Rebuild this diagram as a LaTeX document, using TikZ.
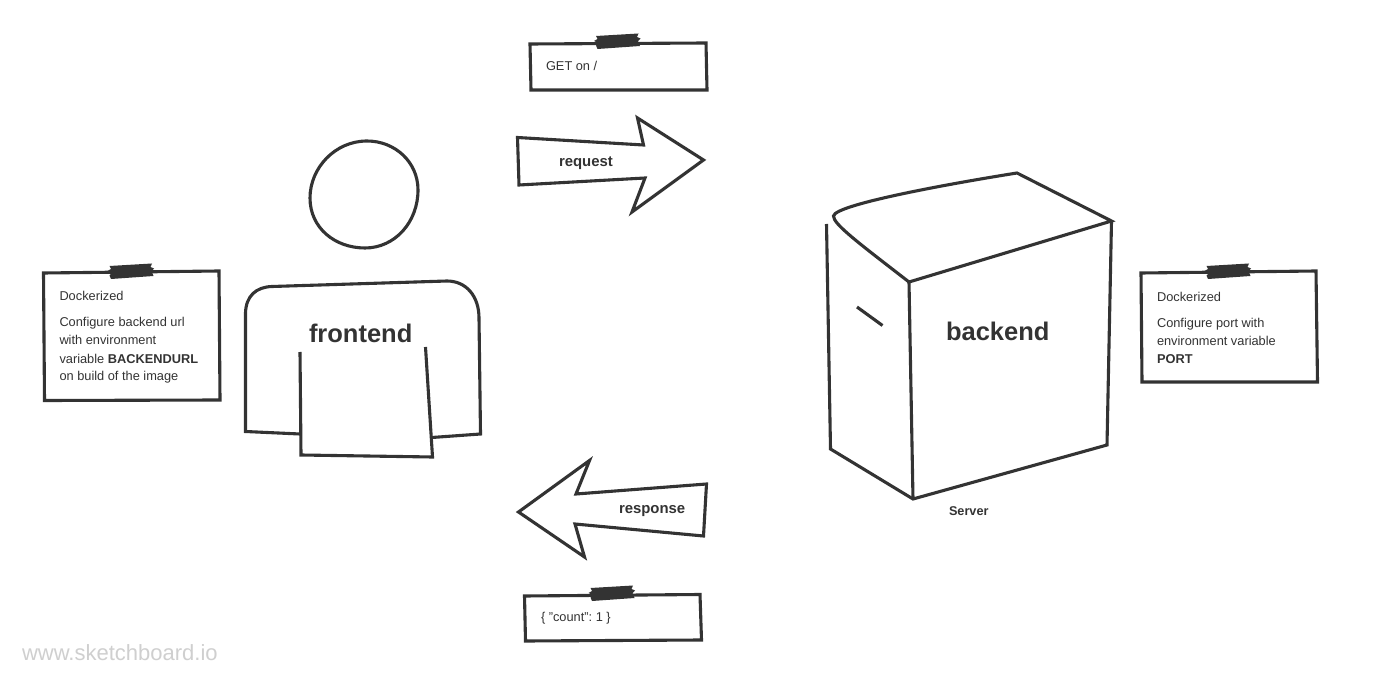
\documentclass[tikz,border=0pt]{standalone}
\usepackage{fontspec}
\setmainfont{Liberation Sans}
\definecolor{ink}{HTML}{333333}
\definecolor{mark}{HTML}{CFCFCF}
\newcommand{\fs}[1]{\fontsize{#1}{#1}\selectfont\frenchspacing}
\tikzset{
  sketch/.style={draw=ink,line width=3.1pt,line join=miter,fill=none},
  paper/.style={draw=ink,line width=3.1pt,fill=white,line join=miter},
  tape/.style={fill=ink,draw=none},
  txt/.style={anchor=base west,inner sep=0pt,outer sep=0pt,text=ink},
  small/.style={txt,font=\fs{12.8}},
  smallb/.style={txt,font=\fs{12.8}\bfseries},
  arrowlabel/.style={txt,font=\fs{14.9}\bfseries},
  bigb/.style={txt,font=\fs{25.5}\bfseries},
  water/.style={txt,text=mark,font=\fs{22}},
  pics/tapestrip/.style={code={
    \fill[tape] (-21.5,-6) -- (21,-8.5) -- (19.5,-5) -- (23,-3.5) -- (20.5,-1) -- (22.5,4)
      -- (-20,7) -- (-21.5,3.5) -- (-19,1) -- (-23.5,-1) -- (-20,-3) -- cycle;
  }}
}
\begin{document}
\begin{tikzpicture}[x=1pt,y=-1pt]
\useasboundingbox (0,0) rectangle (1384,684);
\fill[white] (0,0) rectangle (1384,684);

% notes
\draw[paper] (43.5,273) -- (219,271) -- (220,400) -- (44.5,400.5) -- cycle;
\pic at (131,272) {tapestrip};
\draw[paper] (1141,273) -- (1316,271) -- (1317.5,382) -- (1142,382) -- cycle;
\pic at (1228,272) {tapestrip};
\draw[paper] (530,44) -- (706,43) -- (707,90) -- (531,90) -- cycle;
\pic at (617.5,42) {tapestrip};
\draw[paper] (524.5,596) -- (700,594.5) -- (701.5,640) -- (525.5,641) -- cycle;
\pic at (612,594) {tapestrip};

\node[small] (n1a) at (59.5,301) {Dockerized};
\node[small] (n1b) at (59.5,327) {Configure backend url};
\node[small] (n1c) at (59.5,345) {with environment};
\node[small] (n1d) at (59.5,363) {variable \textbf{BACKENDURL}};
\node[small] (n1e) at (59.5,381) {on build of the image};
\node[small] (n2a) at (1157,302) {Dockerized};
\node[small] (n2b) at (1157,328) {Configure port with};
\node[small] (n2c) at (1157,346) {environment variable};
\node[smallb] (n2d) at (1157,363) {PORT};
\node[small] (n3) at (546,71) {GET on /};
\node[small] (n4) at (541,621) {\{ \symbol{34}count\symbol{34}: 1 \}};

% person
\draw[sketch] (367,141) .. controls (395,141) and (418,162) .. (418,190)
  .. controls (418,222) and (395,248) .. (365,248)
  .. controls (335,248) and (310,228) .. (310,198)
  .. controls (310,168) and (335,141) .. cycle;
\draw[sketch] (300,434) -- (245.5,431.5) -- (245.5,313) .. controls (246,296) and (256,287) .. (272,286.5)
  -- (447,281) .. controls (466,281) and (479,296) .. (479,318) -- (480.5,434) -- (432,437.5);
\draw[sketch] (300,352) -- (301,455) -- (432.5,457) -- (425.5,347);
\node[bigb] (fe) at (309,343) {frontend};

% arrows
\draw[sketch] (517.5,137.5) -- (643.5,145) -- (637.5,118) -- (703.5,160) -- (632,212) -- (645,178) -- (519,185) -- cycle;
\node[arrowlabel] (req) at (559,167) {request};
\draw[sketch] (518.5,512) -- (589.5,460.5) -- (576,494) -- (706.5,484) -- (703.5,536) -- (575,524) -- (584.5,557) -- cycle;
\node[arrowlabel] (resp) at (619,513) {response};

% server
\draw[sketch] (826.5,224) -- (830.5,449) -- (913,499) -- (1107,445) -- (1111.5,221);
\draw[sketch] (1111.5,221) -- (1017,173) .. controls (960,182) and (835,204) .. (833.5,216)
  .. controls (833,224) and (860,244) .. (909,282) -- cycle;
\draw[sketch] (909,282) -- (913,499);
\draw[sketch] (857,307) -- (882.5,325.5);
\node[bigb] (be) at (946,341) {backend};
\node[txt,font=\fs{12.7}\bfseries] (srv) at (949,515) {Server};

\node[water] (wm) at (22,660) {www.sketchboard.io};
\end{tikzpicture}
\end{document}
